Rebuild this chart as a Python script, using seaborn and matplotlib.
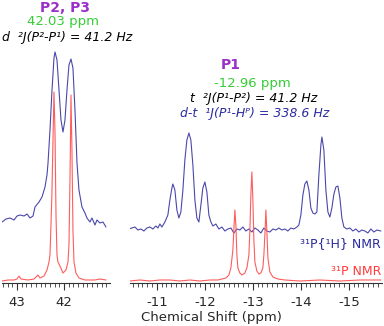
import numpy as np
import pandas as pd
import matplotlib
matplotlib.use("Agg")
import matplotlib.pyplot as plt
from matplotlib.ticker import MultipleLocator
import seaborn as sns

# --- data (ppm, intensity in arbitrary units) ---
left_blue_ppm = [43.319, 43.234, 43.149, 43.064, 43.000, 42.936, 42.851, 42.787, 42.723, 42.660,
                 42.617, 42.532, 42.468, 42.404, 42.362, 42.340, 42.298, 42.255, 42.213, 42.191,
                 42.149, 42.106, 42.064, 42.021, 41.979, 41.936, 41.894, 41.851, 41.809, 41.766,
                 41.723, 41.681, 41.617, 41.553, 41.511, 41.447, 41.404, 41.340, 41.298, 41.234,
                 41.170, 41.106]
left_blue_int = [61, 64, 65, 63, 67, 68, 67, 69, 65, 67,
                 76, 81, 86, 96, 108, 120, 153, 193, 225, 231,
                 223, 193, 163, 151, 163, 193, 218, 224, 215, 173,
                 120, 93, 76, 70, 65, 61, 65, 58, 63, 60,
                 61, 56]

left_red_ppm = [43.319, 43.191, 43.064, 43.000, 42.957, 42.915, 42.766, 42.638, 42.574, 42.553,
                42.511, 42.426, 42.362, 42.319, 42.298, 42.277, 42.255, 42.234, 42.213, 42.191,
                42.170, 42.149, 42.128, 42.085, 42.021, 41.957, 41.915, 41.894, 41.872, 41.851,
                41.830, 41.809, 41.787, 41.745, 41.681, 41.553, 41.340, 41.234, 41.106]
left_red_int = [2, 3, 3, 4, 7, 4, 3, 4, 7, 8,
                5, 7, 13, 21, 28, 58, 93, 143, 191, 150,
                68, 28, 21, 17, 10, 13, 21, 38, 103, 188,
                133, 53, 21, 10, 5, 3, 3, 4, 3]

right_blue_ppm = [-10.417, -10.479, -10.542, -10.604, -10.667, -10.729, -10.792, -10.854, -10.917, -10.979,
                  -11.021, -11.063, -11.104, -11.167, -11.229, -11.271, -11.313, -11.333, -11.375, -11.417,
                  -11.458, -11.500, -11.542, -11.583, -11.625, -11.667, -11.708, -11.750, -11.792, -11.833,
                  -11.875, -11.917, -11.958, -12.000, -12.042, -12.083, -12.125, -12.167, -12.229, -12.292,
                  -12.354, -12.417, -12.479, -12.542, -12.604, -12.667, -12.729, -12.792, -12.854, -12.917,
                  -12.979, -13.042, -13.104, -13.167, -13.229, -13.292, -13.354, -13.417, -13.479, -13.542,
                  -13.604, -13.667, -13.729, -13.792, -13.854, -13.917, -13.958, -14.000, -14.042, -14.083,
                  -14.125, -14.167, -14.208, -14.250, -14.292, -14.333, -14.375, -14.417, -14.438, -14.479,
                  -14.521, -14.563, -14.604, -14.646, -14.688, -14.729, -14.771, -14.813, -14.854, -14.896,
                  -14.958, -15.021, -15.083, -15.146, -15.208, -15.271, -15.333, -15.396, -15.458, -15.521,
                  -15.583, -15.667]
right_blue_int = [54, 55, 56, 53, 54, 52, 55, 56, 54, 57,
                  55, 59, 56, 61, 68, 83, 95, 99, 93, 73,
                  65, 71, 93, 123, 143, 150, 143, 118, 83, 65,
                  61, 78, 95, 101, 91, 68, 61, 57, 59, 54,
                  56, 52, 54, 55, 50, 54, 53, 56, 52, 54,
                  51, 55, 53, 50, 55, 52, 51, 54, 53, 55,
                  53, 54, 52, 55, 54, 56, 58, 68, 88, 99,
                  102, 93, 75, 70, 69, 71, 108, 138, 146, 133,
                  93, 71, 66, 75, 89, 96, 97, 85, 65, 56,
                  54, 55, 52, 54, 51, 53, 52, 50, 54, 51,
                  53, 52]

right_red_ppm = [-10.438, -10.646, -10.854, -11.063, -11.271, -11.479, -11.688, -11.896, -12.104, -12.271,
                 -12.354, -12.438, -12.500, -12.542, -12.583, -12.604, -12.625, -12.646, -12.667, -12.688,
                 -12.729, -12.771, -12.833, -12.875, -12.917, -12.938, -12.958, -12.979, -13.000, -13.021,
                 -13.042, -13.083, -13.125, -13.167, -13.208, -13.229, -13.250, -13.271, -13.292, -13.313,
                 -13.354, -13.417, -13.521, -13.667, -13.979, -14.396, -14.813, -15.229, -15.667]
right_red_int = [2, 3, 2, 3, 3, 2, 3, 2, 3, 3,
                 4, 5, 8, 15, 33, 53, 73, 58, 28, 15,
                 10, 8, 10, 15, 28, 53, 88, 111, 83, 43,
                 21, 12, 9, 10, 15, 28, 48, 73, 51, 25,
                 11, 6, 4, 3, 2, 3, 2, 3, 3]

left_ticks = [43, 42]
right_ticks = [-11, -12, -13, -14, -15]

BLUE = "#4a48aa"
RED = "#ff5c5c"
PURPLE = "#9b30c8"
GREEN = "#35cc35"
DARKBLUE = "#2b2ba0"

W, H = 384, 326


def fx(px):
    return px / W


def fy(py):
    return 1 - py / H


sns.set_theme(style="white")
plt.rcParams["font.family"] = ["DejaVu Sans"]

fig = plt.figure(figsize=(3.84, 3.26), dpi=100)
ax_l = fig.add_axes([fx(2), fy(283), fx(108), (283 - 40) / H])
ax_r = fig.add_axes([fx(130), fy(283), fx(252), (283 - 40) / H])

left_df = pd.concat([
    pd.DataFrame({"ppm": left_blue_ppm, "intensity": left_blue_int, "trace": "P{H}"}),
    pd.DataFrame({"ppm": left_red_ppm, "intensity": left_red_int, "trace": "P"}),
])
right_df = pd.concat([
    pd.DataFrame({"ppm": right_blue_ppm, "intensity": right_blue_int, "trace": "P{H}"}),
    pd.DataFrame({"ppm": right_red_ppm, "intensity": right_red_int, "trace": "P"}),
])

for ax, df, lim, ticks in [(ax_l, left_df, (43.32, 41.02), left_ticks),
                           (ax_r, right_df, (-10.44, -15.69), right_ticks)]:
    sns.lineplot(data=df, x="ppm", y="intensity", hue="trace", sort=False,
                 palette={"P{H}": BLUE, "P": RED}, linewidth=0.8,
                 legend=False, ax=ax, estimator=None)
    ax.set_xlim(*lim)
    ax.set_ylim(0, 243)
    ax.set_xticks(ticks)
    ax.xaxis.set_minor_locator(MultipleLocator(0.1))
    ax.set_yticks([])
    ax.set_xlabel("")
    ax.set_ylabel("")
    for s in ["top", "left", "right"]:
        ax.spines[s].set_visible(False)
    ax.spines["bottom"].set_color("#333333")
    ax.spines["bottom"].set_linewidth(0.8)
    ax.tick_params(axis="x", which="major", direction="out", length=5, width=0.8,
                   color="#333333", labelsize=9.5, pad=4, bottom=True)
    ax.tick_params(axis="x", which="minor", direction="out", length=3, width=0.6,
                   color="#333333", bottom=True)
    ax.set_facecolor("none")

ax_l.set_xticklabels([str(t) for t in left_ticks])
ax_r.set_xticklabels([str(t) for t in right_ticks])

fig.text(fx(211), fy(321), "Chemical Shift (ppm)", ha="center", va="baseline", fontsize=9.5)

# annotations, left group
fig.text(fx(65), fy(12.5), "P2, P3", ha="center", va="baseline", fontsize=10,
         fontweight="bold", color=PURPLE)
fig.text(fx(63), fy(25.5), "42.03 ppm", ha="center", va="baseline", fontsize=9.5, color=GREEN)
fig.text(fx(2), fy(40.5), "d  \u00b2J(P\u00b2-P\u00b9) = 41.2 Hz", ha="left", va="baseline",
         fontsize=9, fontstyle="italic", color="black")

# annotations, right group
fig.text(fx(231), fy(69), "P1", ha="center", va="baseline", fontsize=10,
         fontweight="bold", color=PURPLE)
fig.text(fx(252), fy(87), "-12.96 ppm", ha="center", va="baseline", fontsize=9.5, color=GREEN)
fig.text(fx(190), fy(102), "t  \u00b2J(P\u00b9-P\u00b2) = 41.2 Hz", ha="left", va="baseline",
         fontsize=9, fontstyle="italic", color="black")
fig.text(fx(180), fy(117), "d-t  \u00b9J(P\u00b9-H\u1d3e) = 338.6 Hz", ha="left", va="baseline",
         fontsize=9, fontstyle="italic", color=DARKBLUE)

fig.text(fx(381), fy(247), "\u00b3\u00b9P{\u00b9H} NMR", ha="right", va="baseline",
         fontsize=9, color=DARKBLUE)
fig.text(fx(381), fy(275), "\u00b3\u00b9P NMR", ha="right", va="baseline",
         fontsize=9, color="#ff3b3b")

fig.savefig("out.png", dpi=100)
